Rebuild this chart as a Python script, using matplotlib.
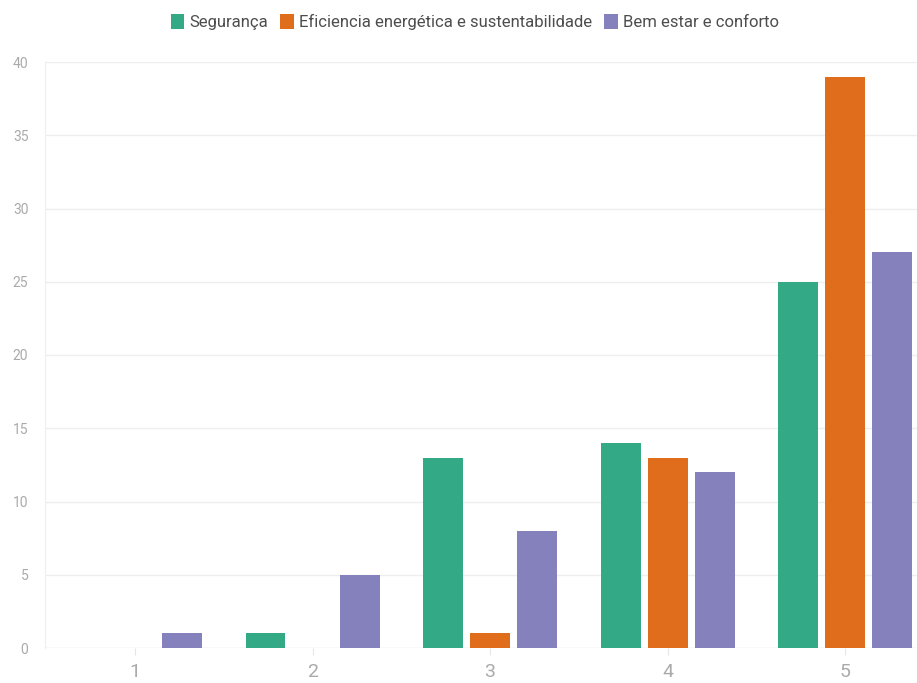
import numpy as np
import matplotlib.pyplot as plt

plt.rcParams['font.family'] = ['Roboto', 'DejaVu Sans']

categories = ["1", "2", "3", "4", "5"]
seguranca = [0, 1, 13, 14, 25]
eficiencia = [0, 0, 1, 13, 39]
bem_estar = [1, 5, 8, 12, 27]
series_names = ["Segurança", "Eficiencia energética e sustentabilidade",
                "Bem estar e conforto"]
colors = ["#34a985", "#df6d1c", "#8581bc"]
y_ticks = [0, 5, 10, 15, 20, 25, 30, 35, 40]

fig = plt.figure(figsize=(9.17, 6.83), dpi=100)
ax = fig.add_axes([45 / 917, 1 - 648 / 683, 1 - 45 / 917, (648 - 62) / 683])

x = np.arange(1, len(categories) + 1)
width = 0.225
offset = 0.265
for i, (vals, name, col) in enumerate(zip([seguranca, eficiencia, bem_estar],
                                          series_names, colors)):
  ax.bar(x + (i - 1) * offset, vals, width, color=col, label=name, zorder=3)

ax.set_xlim(0.493, 5.405)
ax.set_ylim(0, 40)
ax.set_yticks(y_ticks)
ax.set_xticks(x)
ax.set_xticklabels(categories)
ax.grid(axis="y", color="#eeeeee", linewidth=1, zorder=0)

for side in ["top", "right", "bottom"]:
  ax.spines[side].set_visible(False)
ax.spines["left"].set_color("#eeeeee")
ax.axhline(0, color="#eeeeee", linewidth=1, zorder=1)

ax.tick_params(axis="y", length=0, pad=12, labelsize=10, labelcolor="#aaaaaa")
ax.tick_params(axis="x", length=5, color="#e6e6e6", pad=6, labelsize=14,
               labelcolor="#aaaaaa")

leg = fig.legend(loc="center", bbox_to_anchor=(475 / 917, 1 - 22 / 683),
                 ncol=3, frameon=False, fontsize=12, handlelength=0.8,
                 handleheight=1.0, handletextpad=0.35, columnspacing=0.7)
for t in leg.get_texts():
  t.set_color("#4d4d4d")

fig.savefig("out.png", dpi=100)
